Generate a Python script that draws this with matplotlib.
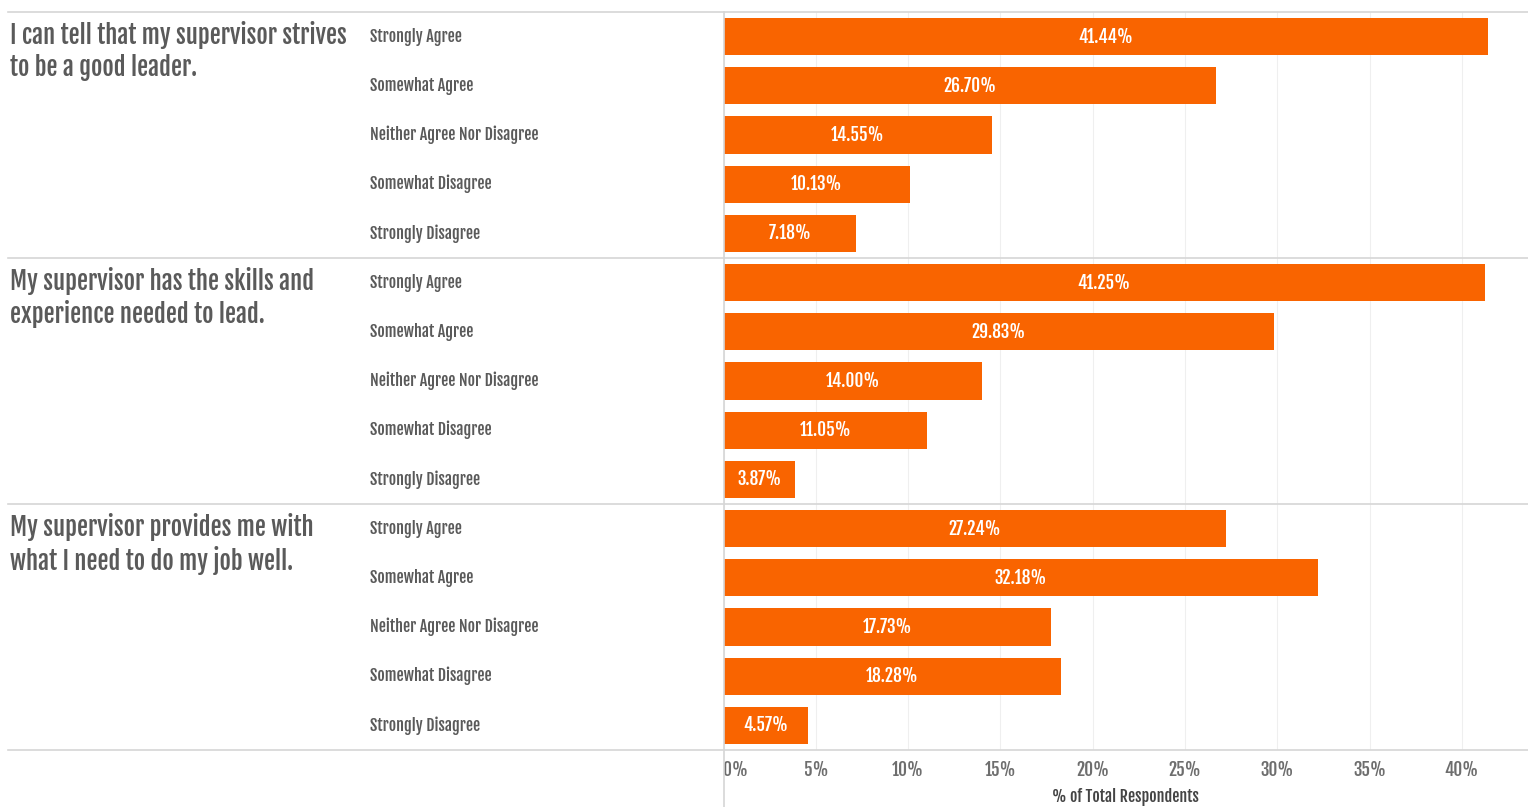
import numpy as np
import matplotlib.pyplot as plt
from matplotlib.transforms import blended_transform_factory, ScaledTranslation

# survey questions and response shares (% of total respondents)
questions = [
    "I can tell that my supervisor strives\nto be a good leader.",
    "My supervisor has the skills and\nexperience needed to lead.",
    "My supervisor provides me with\nwhat I need to do my job well.",
]
responses = [
    "Strongly Agree",
    "Somewhat Agree",
    "Neither Agree Nor Disagree",
    "Somewhat Disagree",
    "Strongly Disagree",
]
q1_values = [41.44, 26.70, 14.55, 10.13, 7.18]
q2_values = [41.25, 29.83, 14.00, 11.05, 3.87]
q3_values = [27.24, 32.18, 17.73, 18.28, 4.57]
x_ticks = [0, 5, 10, 15, 20, 25, 30, 35, 40]

plt.rcParams['font.family'] = ['Fjalla One', 'Oswald', 'Archivo Narrow', 'DejaVu Sans']

ORANGE = '#F96400'
GREY_TEXT = '#5a5a5a'
SEP = '#d6d6d6'

W, H = 1528, 807
fig = plt.figure(figsize=(W / 100, H / 100), dpi=100)

left_px, top_px, bottom_px = 723.5, 12, 750
ax = fig.add_axes([left_px / W, 1 - bottom_px / H, 1 - left_px / W, (bottom_px - top_px) / H])

all_values = [q1_values, q2_values, q3_values]
n = len(responses)
for qi, vals in enumerate(all_values):
    ys = np.arange(n) + qi * n
    ax.barh(ys, vals, height=0.76, color=ORANGE, zorder=3)
    for y, v in zip(ys, vals):
        ax.text(v / 2, y, f"{v:.2f}%", ha='center', va='center',
                color='white', fontsize=12.5, zorder=4)

ax.set_xlim(0, (W - left_px) / 18.46)
ax.set_ylim(3 * n - 0.5, -0.5)

ax.set_xticks(x_ticks)
ax.set_xticklabels([f"{t}%" for t in x_ticks], color='#6e6e6e', fontsize=12.5)
# first label sits just right of the axis line
lbl0 = ax.get_xticklabels()[0]
lbl0.set_horizontalalignment('left')
lbl0.set_transform(lbl0.get_transform() + ScaledTranslation(3 / 72, 0, fig.dpi_scale_trans))
ax.tick_params(axis='x', length=0, pad=7)
ax.set_yticks([])
ax.grid(axis='x', color='#efefef', linewidth=0.8, zorder=0)
ax.set_xlabel("% of Total Respondents", color='#444444', fontsize=11.5, labelpad=6)
for s in ax.spines.values():
    s.set_visible(False)

# response labels on the left of the bars
trans = blended_transform_factory(fig.transFigure, ax.transData)
for qi in range(3):
    for ri, r in enumerate(responses):
        ax.text(370 / W, qi * n + ri, r, transform=trans, ha='left', va='center',
                color=GREY_TEXT, fontsize=11.5)
    fig.text(10 / W, 1 - (top_px + qi * n * 49.2 + 9) / H, questions[qi],
             ha='left', va='top', color=GREY_TEXT, fontsize=17.7, linespacing=1.22)

# horizontal separators between the question panels
for qi in range(4):
    y = 1 - (top_px + qi * n * 49.2) / H
    fig.add_artist(plt.Line2D([8 / W, 1], [y, y], transform=fig.transFigure,
                              color=SEP, linewidth=1.2))

# vertical axis line running through to the bottom
fig.add_artist(plt.Line2D([left_px / W, left_px / W], [0, 1 - top_px / H],
                          transform=fig.transFigure, color=SEP, linewidth=1.2))

fig.savefig('out.png', dpi=100, facecolor='white')
